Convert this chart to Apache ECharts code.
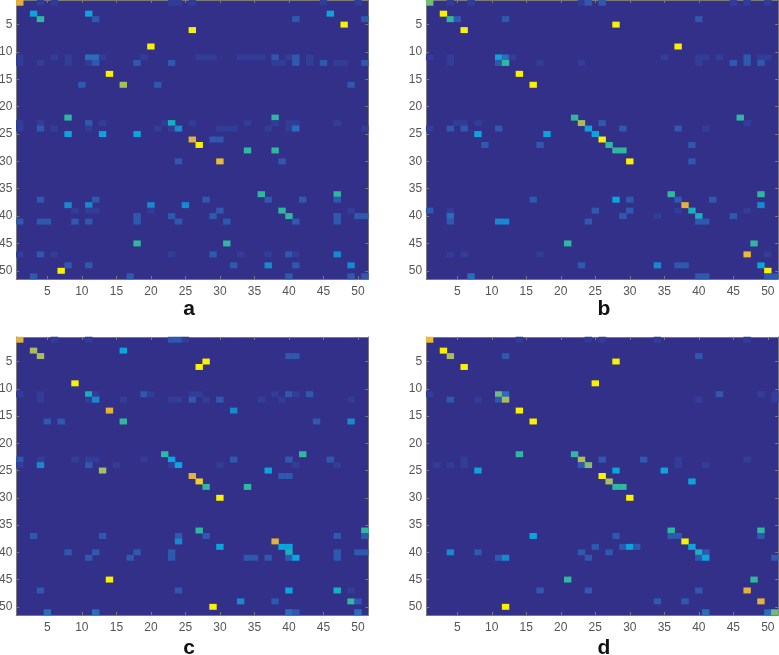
<!DOCTYPE html>
<html><head><meta charset="utf-8">
<style>html,body{margin:0;padding:0;background:#fff}#c{width:779px;height:655px}</style>
<script src="https://cdn.jsdelivr.net/npm/echarts@6/dist/echarts.min.js"></script>
</head><body><div id="c"></div>
<script>
const captions = ['a','b','c','d'];
const tickLabels = ['5','10','15','20','25','30','35','40','45','50'];
const classCount = 51;
const F=.04,L=.09,M=.15,B=.22,C=.3,E=.38,T=.5,G=.6,O=.7,R=.85,Y=1;
// [row, column, level]
const cellsA = [
[1,1,R],[1,4,F],[1,6,F],[1,23,F],[1,24,F],[1,26,F],[1,45,F],[1,50,F],
[3,3,C],[3,11,C],[3,46,C],
[4,4,T],[4,12,L],[4,41,L],[4,51,L],
[5,48,Y],[6,26,Y],[9,20,Y],
[11,1,F],[11,6,F],[11,8,F],[11,11,M],[11,12,M],[11,13,F],[11,19,F],[11,27,F],[11,28,F],[11,29,F],[11,33,F],[11,34,F],[11,35,F],[11,36,F],[11,38,L],[11,40,F],[11,41,L],[11,43,F],
[12,1,F],[12,4,F],[12,8,F],[12,11,F],[12,12,L],[12,18,L],[12,23,L],[12,38,F],[12,39,F],[12,41,L],[12,43,F],[12,45,L],[12,47,F],[12,48,F],[12,51,L],
[14,14,Y],
[16,10,L],[16,16,O],[16,21,L],[16,49,L],
[22,8,T],[22,38,T],
[23,1,F],[23,4,F],[23,11,L],[23,13,F],[23,22,F],[23,23,E],[23,26,F],[23,34,F],[23,38,F],[23,40,F],[23,41,F],[23,47,F],
[24,1,F],[24,4,L],[24,6,F],[24,11,F],[24,21,F],[24,23,F],[24,24,B],[24,30,F],[24,31,F],[24,32,F],[24,37,F],[24,40,F],[24,41,M],[24,51,F],
[25,8,C],[25,13,C],[25,18,C],
[26,26,R],[26,29,L],[26,30,L],
[27,27,Y],
[28,34,T],[28,38,T],
[30,24,L],[30,30,.88],[30,39,L],
[36,36,T],[36,47,T],
[37,4,L],[37,12,L],[37,28,L],[37,37,L],[37,42,L],[37,47,L],
[38,8,B],[38,11,B],[38,20,B],[38,25,B],
[39,9,F],[39,11,F],[39,12,F],[39,20,F],[39,30,L],[39,39,T],[39,49,F],
[40,18,L],[40,23,L],[40,29,L],[40,40,T],[40,47,L],[40,50,L],[40,51,L],
[41,1,L],[41,4,L],[41,5,L],[41,9,L],[41,11,L],[41,18,L],[41,24,L],[41,31,L],[41,41,L],[41,47,L],
[45,18,T],[45,31,T],
[47,1,F],[47,4,L],[47,6,F],[47,23,F],[47,29,L],[47,33,F],[47,37,F],[47,40,L],[47,41,F],[47,47,B],
[49,8,L],[49,11,L],[49,32,L],[49,37,B],[49,41,L],[49,49,B],
[50,7,Y],
[51,3,L],[51,17,L],[51,40,L],[51,49,L],[51,51,L]
];
const cellsB = [
[1,1,G],[1,4,F],[1,7,F],[1,23,F],[1,24,L],[1,26,L],[1,45,F],[1,47,F],[1,50,F],
[3,3,Y],
[4,4,T],[4,5,L],[4,12,L],[4,40,L],
[5,28,Y],[6,6,Y],[9,37,Y],
[11,1,F],[11,4,F],[11,11,C],[11,12,M],[11,13,F],[11,35,F],[11,40,F],[11,41,F],[11,43,F],[11,47,L],[11,49,F],[11,50,F],
[12,4,F],[12,11,L],[12,12,T],[12,17,F],[12,23,F],[12,40,F],[12,45,L],[12,47,L],[12,49,L],
[14,14,Y],[16,16,Y],
[22,22,T],[22,46,T],
[23,5,F],[23,6,F],[23,8,F],[23,23,O],[23,26,L],[23,47,F],
[24,1,F],[24,4,L],[24,6,L],[24,11,L],[24,24,C],[24,29,L],[24,37,L],[24,41,F],
[25,8,C],[25,18,C],[25,25,C],
[26,26,Y],
[27,9,L],[27,17,L],[27,27,T],[27,39,L],
[28,28,T],[28,29,T],
[30,30,Y],[30,39,L],
[36,36,T],[36,49,T],
[37,16,L],[37,28,C],[37,30,L],[37,37,L],[37,42,L],
[38,38,R],[38,49,B],
[39,1,L],[39,4,F],[39,25,L],[39,30,L],[39,37,F],[39,39,E],[39,47,F],
[40,4,M],[40,29,L],[40,34,F],[40,40,E],[40,45,L],
[41,4,L],[41,11,B],[41,12,B],[41,24,L],[41,40,L],[41,41,L],
[45,21,T],[45,48,T],
[47,4,F],[47,6,F],[47,17,F],[47,47,.88],[47,50,F],
[49,23,L],[49,34,B],[49,37,L],[49,38,L],[49,49,C],
[50,50,Y],
[51,7,M],[51,40,L],[51,41,L],[51,50,L],[51,51,L]
];
const cellsC = [
[1,1,.82],[1,6,F],[1,11,F],[1,23,L],[1,24,L],[1,25,F],
[3,3,O],[3,16,C],
[4,4,O],[4,40,L],[4,41,L],
[5,28,Y],[6,27,Y],[9,9,Y],
[11,1,F],[11,4,F],[11,11,E],[11,12,F],[11,19,L],[11,20,F],[11,26,F],[11,27,F],[11,38,F],[11,40,L],[11,41,F],[11,43,L],
[12,4,F],[12,11,F],[12,12,B],[12,16,F],[12,23,F],[12,24,F],[12,26,L],[12,28,F],[12,30,L],[12,36,F],[12,39,F],[12,49,F],
[14,14,R],[14,32,B],
[16,5,L],[16,7,L],[16,16,T],[16,44,L],[16,49,B],
[22,22,T],[22,42,T],
[23,1,L],[23,4,F],[23,9,F],[23,11,F],[23,12,F],[23,19,F],[23,23,C],[23,32,L],[23,40,L],[23,46,L],
[24,1,F],[24,4,B],[24,11,L],[24,15,F],[24,23,F],[24,24,C],[24,30,F],[24,41,F],[24,47,F],
[25,13,O],[25,37,C],
[26,26,R],[26,39,L],[26,40,L],
[27,27,.93],
[28,28,T],[28,34,T],
[30,30,Y],
[36,27,T],[36,51,T],
[37,3,L],[37,13,L],[37,24,L],[37,28,L],[37,47,L],[37,51,L],
[38,24,B],[38,38,R],
[39,30,C],[39,39,C],[39,40,C],
[40,8,L],[40,12,L],[40,18,L],[40,23,L],[40,40,E],[40,47,L],[40,50,L],[40,51,L],
[41,11,L],[41,17,L],[41,23,L],[41,34,L],[41,35,L],[41,37,L],[41,40,L],[41,41,C],[41,47,L],
[45,14,Y],
[47,4,L],[47,24,L],[47,40,C],[47,47,E],[47,49,F],
[49,33,B],[49,38,L],[49,49,T],[49,50,L],
[50,29,Y],
[51,5,M],[51,12,M],[51,40,M],[51,41,L],[51,50,M]
];
const cellsD = [
[1,1,.88],[1,14,F],[1,24,F],[1,26,F],[1,34,F],[1,47,F],
[3,3,Y],
[4,4,O],[4,12,L],[4,40,L],
[5,28,Y],[6,6,Y],[9,25,Y],
[11,1,F],[11,11,G],[11,12,M],[11,43,L],[11,49,F],[11,51,F],
[12,4,L],[12,8,F],[12,11,L],[12,12,O],[12,40,F],[12,51,F],
[14,14,Y],[16,16,Y],
[22,14,T],[22,22,T],
[23,6,F],[23,23,.72],[23,26,L],[23,32,L],[23,37,F],[23,47,F],
[24,2,F],[24,4,F],[24,6,F],[24,23,L],[24,24,.62],[24,37,F],[24,41,F],
[25,8,C],[25,28,C],[25,35,C],
[26,26,Y],
[27,27,O],[27,39,C],
[28,28,T],[28,29,T],
[30,30,Y],
[36,36,T],[36,49,T],
[37,16,C],[37,28,L],[37,36,L],[37,37,L],[37,49,L],
[38,38,Y],
[39,25,L],[39,29,L],[39,30,C],[39,31,L],[39,39,C],
[40,4,B],[40,8,L],[40,23,L],[40,27,L],[40,40,E],[40,41,L],
[41,11,L],[41,12,B],[41,24,L],[41,40,L],[41,41,C],[41,51,L],
[45,21,T],[45,48,T],
[47,17,L],[47,24,L],[47,40,L],[47,47,R],
[49,34,L],[49,38,L],[49,49,R],
[50,12,Y],
[51,41,M],[51,50,M],[51,51,G]
];
const panels = [cellsA, cellsB, cellsC, cellsD];
const colormap = ['#33308a','#304099','#2d5fb3','#2a6dbd','#1e82cb','#1293d3','#0aa5da','#10adcb','#1bb3b5','#26b6a8','#2fb8a0','#52ba8c','#73bc78','#92bd6a','#a9bd5f','#c4b950','#d8b545','#e5b13c','#eec12f','#f5dd18','#f9f002'];

const labels = Array.from({length: classCount}, (_, i) => String(i + 1));
const showTick = i => tickLabels.includes(labels[i]);
const frame = '#7a7a7a';
const plot = [
  {left:16.3, top:0,   w:352, h:279, capX:189, capY:299},
  {left:426.2,top:0,   w:352, h:279, capX:604, capY:299},
  {left:16.3, top:337, w:352, h:278, capX:189, capY:638},
  {left:426.2,top:337, w:352, h:278, capX:604, capY:638}
];
const grid=[],xAxis=[],yAxis=[],series=[],title=[];
const base = {type:'category',data:labels,axisLine:{show:true,onZero:false,lineStyle:{color:frame,width:1}},splitLine:{show:false},splitArea:{show:false},
  axisTick:{show:true,inside:true,length:3,alignWithLabel:true,interval:showTick,lineStyle:{color:frame}}};
plot.forEach((p,k)=>{
  grid.push({left:p.left,top:p.top,width:p.w,height:p.h,containLabel:false,outerBoundsMode:'none',show:true,backgroundColor:colormap[0],borderWidth:0});
  const lab={show:true,interval:showTick,color:'#555',fontFamily:'Liberation Sans',fontSize:12};
  xAxis.push({...base,gridIndex:k,position:'bottom',axisLabel:{...lab,margin:7}});
  xAxis.push({...base,gridIndex:k,position:'top',axisLabel:{show:false}});
  yAxis.push({...base,gridIndex:k,inverse:true,position:'left',axisLabel:{...lab,margin:4}});
  yAxis.push({...base,gridIndex:k,inverse:true,position:'right',axisLabel:{show:false}});
  const data=panels[k].map(c=>[c[1]-1,c[0]-1,c[2]]);
  series.push({type:'heatmap',xAxisIndex:k*2,yAxisIndex:k*2,data,silent:true,animation:false,progressive:0,
    itemStyle:{borderWidth:0},emphasis:{disabled:true}});
  title.push({text:captions[k],left:p.capX,top:p.capY,padding:0,textAlign:'center',
    textStyle:{fontFamily:'Liberation Sans',fontWeight:'bold',fontSize:21,color:'#111'}});
});
const chart=echarts.init(document.getElementById('c'),null,{renderer:'canvas'});
chart.setOption({
  animation:false,backgroundColor:'#fff',title,grid,xAxis,yAxis,series,
  visualMap:{show:false,type:'continuous',min:0,max:1,dimension:2,inRange:{color:colormap}}
});
</script></body></html>
